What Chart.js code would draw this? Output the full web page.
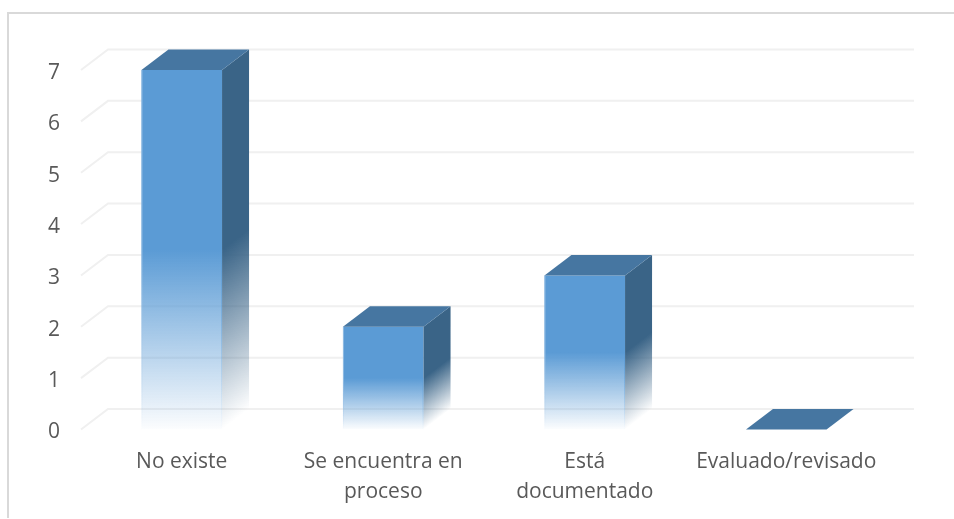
<!DOCTYPE html>
<html>
<head>
<meta charset="utf-8">
<style>
  html, body { margin: 0; padding: 0; background: #fff; }
  #wrap { position: relative; width: 954px; height: 519px; }
</style>
<script src="https://cdn.jsdelivr.net/npm/chart.js@4"></script>
</head>
<body>
<div id="wrap"><canvas id="chart" width="954" height="519"></canvas></div>
<script>
const categories = [
    'No existe',
    ['Se encuentra en', 'proceso'],
    ['Está', 'documentado'],
    'Evaluado/revisado'
];
const values = [7, 2, 3, 0];

// depth of the fake 3D box, in pixels
const depthX = 27;
const depthY = 20.5;

function frontFill(context) {
    const chart = context.chart;
    if (!chart.chartArea) return '#5B9BD5';
    const y = chart.scales.y;
    const top = y.getPixelForValue(values[context.dataIndex]);
    const base = y.getPixelForValue(0);
    if (base - top < 1) return '#5B9BD5';
    const g = chart.ctx.createLinearGradient(0, top, 0, base);
    g.addColorStop(0, '#5B9BD5');
    g.addColorStop(0.5, '#5B9BD5');
    g.addColorStop(1, 'rgba(91,155,213,0.02)');
    return g;
}

const gridPlugin = {
    id: 'grid3d',
    beforeDatasetsDraw(chart) {
        const { ctx, chartArea, scales } = chart;
        ctx.save();
        ctx.strokeStyle = '#F0F0F0';
        ctx.lineWidth = 2;
        scales.y.ticks.forEach(t => {
            const y = scales.y.getPixelForValue(t.value);
            ctx.beginPath();
            ctx.moveTo(chartArea.left, y);
            ctx.lineTo(chartArea.left + depthX, y - depthY);
            ctx.lineTo(chartArea.right + depthX, y - depthY);
            ctx.stroke();
        });
        ctx.restore();
    }
};

const boxPlugin = {
    id: 'box3d',
    afterDatasetsDraw(chart) {
        const ctx = chart.ctx;
        const meta = chart.getDatasetMeta(0);
        meta.data.forEach(bar => {
            const left = bar.x - bar.width / 2;
            const right = bar.x + bar.width / 2;
            const top = bar.y;
            const base = bar.base;
            const h = base - top;
            if (h > 1) {
                // side face, fades along the normal of its bottom edge
                const len = Math.hypot(depthX, depthY);
                const nx = depthY / len;
                const ny = depthX / len;
                const d = (h / 2) * ny;
                const g = ctx.createLinearGradient(right - nx * d, base - ny * d, right, base);
                g.addColorStop(0, '#3A6487');
                g.addColorStop(1, 'rgba(58,100,135,0)');
                ctx.fillStyle = g;
                ctx.beginPath();
                ctx.moveTo(right, top);
                ctx.lineTo(right + depthX, top - depthY);
                ctx.lineTo(right + depthX, base - depthY);
                ctx.lineTo(right, base);
                ctx.closePath();
                ctx.fill();
                // thin edges of the front face
                const leftEdge = ctx.createLinearGradient(0, top, 0, base);
                leftEdge.addColorStop(0, 'rgba(157,195,230,0.8)');
                leftEdge.addColorStop(0.5, 'rgba(157,195,230,0.8)');
                leftEdge.addColorStop(1, 'rgba(157,195,230,0)');
                ctx.fillStyle = leftEdge;
                ctx.fillRect(left, top, 1, h);
                const rightEdge = ctx.createLinearGradient(0, top + h / 2, 0, base);
                rightEdge.addColorStop(0, 'rgba(91,155,213,0.7)');
                rightEdge.addColorStop(1, 'rgba(91,155,213,0)');
                ctx.fillStyle = rightEdge;
                ctx.fillRect(right - 1, top + h / 2, 1, h / 2);
            }
            // top face
            ctx.fillStyle = '#4676A1';
            ctx.beginPath();
            ctx.moveTo(left, top);
            ctx.lineTo(left + depthX, top - depthY);
            ctx.lineTo(right + depthX, top - depthY);
            ctx.lineTo(right, top);
            ctx.closePath();
            ctx.fill();
        });
    }
};

const framePlugin = {
    id: 'frame',
    beforeDraw(chart) {
        const ctx = chart.ctx;
        ctx.save();
        ctx.strokeStyle = '#D9D9D9';
        ctx.lineWidth = 2;
        ctx.beginPath();
        ctx.moveTo(8, 518);
        ctx.lineTo(8, 13);
        ctx.lineTo(954, 13);
        ctx.stroke();
        ctx.restore();
    }
};

new Chart(document.getElementById('chart').getContext('2d'), {
    type: 'bar',
    data: {
        labels: categories,
        datasets: [{
            data: values,
            backgroundColor: frontFill,
            borderWidth: 0,
            barPercentage: 0.4,
            categoryPercentage: 1
        }]
    },
    plugins: [framePlugin, gridPlugin, boxPlugin],
    options: {
        responsive: false,
        animation: false,
        layout: { padding: { top: 70, right: 67, bottom: 0, left: 0 } },
        plugins: { legend: { display: false }, tooltip: { enabled: false } },
        scales: {
            x: {
                grid: { display: false },
                border: { display: false },
                ticks: {
                    color: '#595959',
                    padding: 10,
                    maxRotation: 0,
                    font: { family: '"Open Sans"', size: 21, lineHeight: 1.4 }
                },
                afterFit(axis) { axis.height = 89.5; }
            },
            y: {
                min: 0,
                max: 7,
                grid: { display: false },
                border: { display: false },
                ticks: {
                    stepSize: 1,
                    color: '#595959',
                    padding: 13,
                    labelOffset: 3,
                    font: { family: '"Open Sans"', size: 21 }
                },
                afterFit(axis) { axis.width = 81; }
            }
        }
    }
});
</script>
</body>
</html>
